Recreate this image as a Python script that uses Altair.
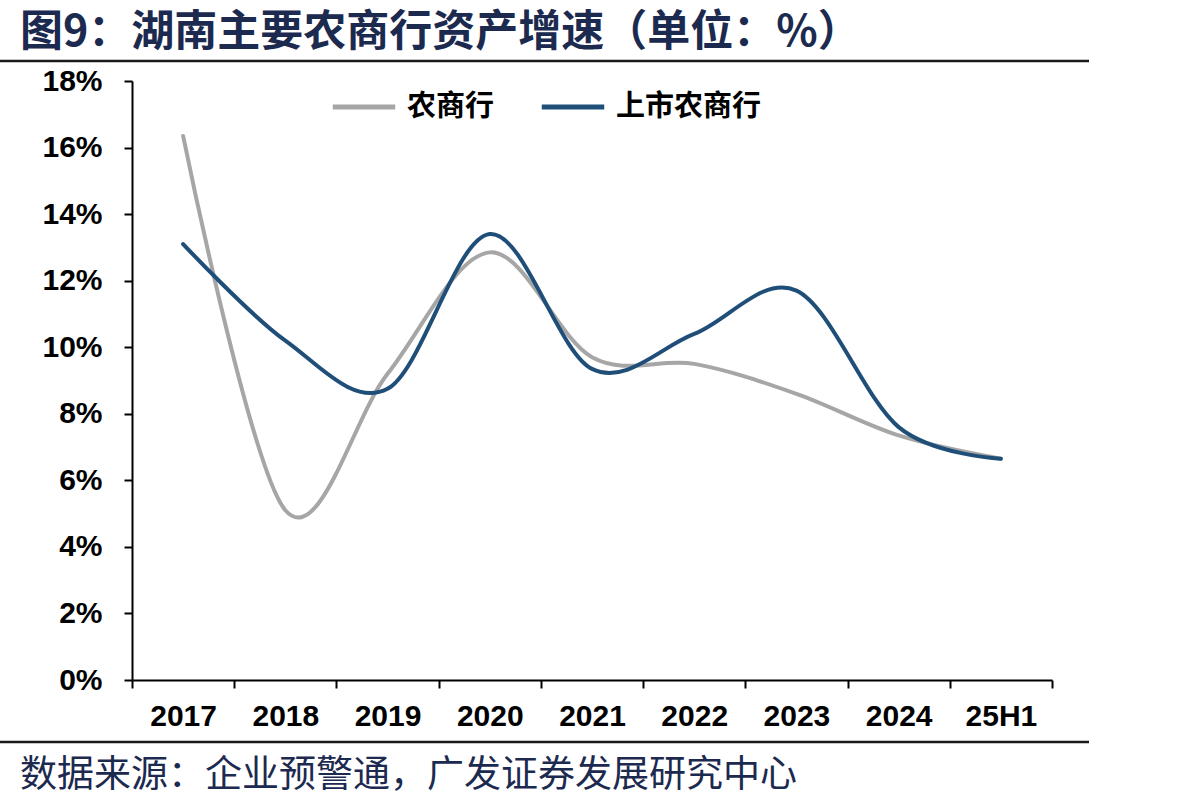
import altair as alt
import pandas as pd

categories = ["2017", "2018", "2019", "2020", "2021", "2022", "2023", "2024", "25H1"]
series_names = ["农商行", "上市农商行"]
rural = [16.35, 5.1, 9.2, 12.85, 9.7, 9.5, 8.6, 7.35, 6.65]
listed = [13.1, 10.2, 8.75, 13.4, 9.35, 10.4, 11.7, 7.6, 6.65]
colors = ["#a6a6a6", "#1f4e79"]

title_text = "图9：湖南主要农商行资产增速（单位：%）"
source_text = "数据来源：企业预警通，广发证券发展研究中心"

rows = []
for c, v in zip(categories, rural):
    rows.append({"cat": c, "series": series_names[0], "value": v / 100})
for c, v in zip(categories, listed):
    rows.append({"cat": c, "series": series_names[1], "value": v / 100})
df = pd.DataFrame(rows)

W, H = 920, 599
PL, PT = 132, 81

lines = alt.Chart(df).mark_line(
    interpolate="cardinal", tension=0, strokeWidth=4, strokeCap="round"
).encode(
    x=alt.X("cat:N", sort=categories, title=None,
            scale=alt.Scale(type="band", paddingInner=0, paddingOuter=0),
            axis=alt.Axis(labelAngle=0, tickBand="extent", labelPadding=13,
                          labelFont="Liberation Sans", labelFontSize=30,
                          labelFontWeight="bold", labelColor="#000000",
                          domainColor="#000000", domainWidth=2,
                          tickColor="#000000", tickWidth=2, tickSize=8,
                          grid=False)),
    y=alt.Y("value:Q", title=None,
            scale=alt.Scale(domain=[0, 0.18], nice=False, zero=True),
            axis=alt.Axis(values=[i / 100 for i in range(0, 19, 2)], format=".0%",
                          labelPadding=22, labelFont="Liberation Sans",
                          labelFontSize=30, labelFontWeight="bold",
                          labelColor="#000000", domainColor="#000000",
                          domainWidth=2, tickColor="#000000", tickWidth=2,
                          tickSize=8, grid=False)),
    color=alt.Color("series:N", sort=series_names,
                    scale=alt.Scale(domain=series_names, range=colors),
                    legend=alt.Legend(orient="none", legendX=198, legendY=-8,
                                      direction="horizontal", title=None,
                                      symbolType="stroke", symbolStrokeWidth=5,
                                      symbolSize=3900, labelFont="Noto Sans CJK SC",
                                      labelFontSize=29, labelFontWeight="bold",
                                      labelColor="#000000", labelOffset=9,
                                      columnPadding=36)),
)

one = pd.DataFrame({"a": [0]})

title = alt.Chart(one).mark_text(
    text=title_text, align="left", baseline="middle", font="Noto Sans CJK SC",
    fontSize=43, fontWeight="bold", color="#1c2a4f"
).encode(x=alt.value(20 - PL), y=alt.value(33 - PT))

source = alt.Chart(one).mark_text(
    text=source_text, align="left", baseline="middle", font="Noto Sans CJK SC",
    fontSize=37, color="#1c2a4f"
).encode(x=alt.value(20 - PL), y=alt.value(776 - PT))

rule_top = alt.Chart(one).mark_rule(color="#1a1a1a", strokeWidth=2.5).encode(
    x=alt.value(0 - PL), x2=alt.value(1089 - PL), y=alt.value(61 - PT)
)
rule_bottom = alt.Chart(one).mark_rule(color="#1a1a1a", strokeWidth=2.5).encode(
    x=alt.value(0 - PL), x2=alt.value(1089 - PL), y=alt.value(742 - PT)
)

chart = alt.layer(lines, title, source, rule_top, rule_bottom).properties(
    width=W, height=H,
    background="white",
    autosize=alt.AutoSizeParams(type="none"),
    padding={"left": PL, "top": PT, "right": 1200 - PL - W, "bottom": 811 - PT - H},
).configure_view(stroke=None)

chart.save("out.html", embed_options={"renderer": "svg", "actions": False})
